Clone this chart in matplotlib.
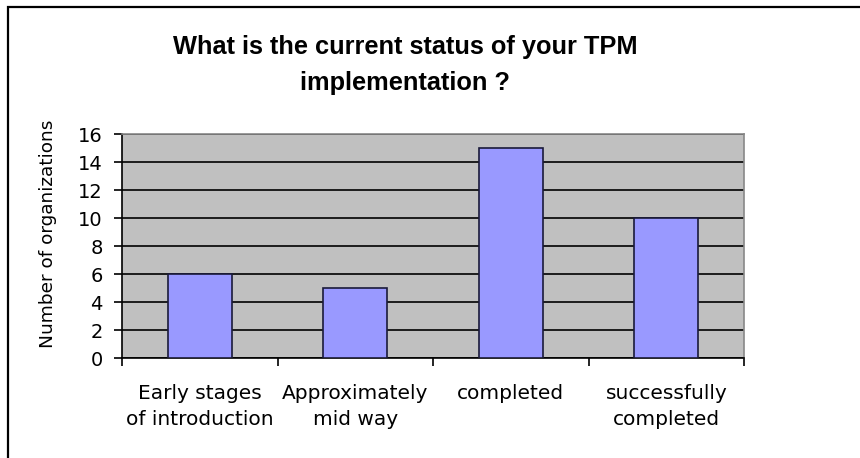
import matplotlib as mpl
mpl.use('Agg')
import matplotlib.pyplot as plt
from matplotlib.patches import Rectangle

categories = ['Early stages\nof introduction', 'Approximately\nmid way',
              'completed', 'successfully\ncompleted']
counts = [6, 5, 15, 10]
y_ticks = [0, 2, 4, 6, 8, 10, 12, 14, 16]

plt.rcParams['font.family'] = ['DejaVu Sans']

fig = plt.figure(figsize=(8.6, 4.58), dpi=100)
axis = fig.add_axes([0.1419, 0.2183, 0.7233, 0.4891])

# outer frame of the chart area
fig.patches.append(Rectangle((8 / 860, -0.05), 1.0, 1 - 7 / 458 + 0.05,
                             transform=fig.transFigure, fill=False,
                             edgecolor='black', linewidth=1.6))

x = range(len(categories))
axis.bar(x, counts, width=0.41, color='#9999ff', edgecolor='#1a1a3a',
         linewidth=1.2, zorder=3)

axis.set_facecolor('#c0c0c0')
axis.set_xlim(-0.5, len(categories) - 0.5)
axis.set_ylim(0, 16)
axis.set_yticks(y_ticks)
axis.yaxis.grid(True, color='black', linewidth=1.2, zorder=1)
axis.set_axisbelow(True)

# ticks sit between the categories
axis.set_xticks([i - 0.5 for i in range(len(categories) + 1)])
axis.set_xticklabels([])
axis.set_xticks(list(x), minor=True)
axis.set_xticklabels(categories, minor=True, fontsize=14.5, linespacing=1.45)
axis.tick_params(axis='x', which='minor', length=0, pad=19)
axis.tick_params(axis='x', which='major', length=6, width=1.2)
axis.tick_params(axis='y', length=6, width=1.2, labelsize=14, pad=8)

for side in ['top', 'right']:
    axis.spines[side].set_color('#888888')
    axis.spines[side].set_linewidth(1.2)
for side in ['left', 'bottom']:
    axis.spines[side].set_color('black')
    axis.spines[side].set_linewidth(1.2)

axis.set_ylabel('Number of organizations', fontsize=13.3, va='center')
axis.yaxis.set_label_coords(-0.119, 0.554)

fig.text(405 / 860, 1 - 65 / 458,
         'What is the current status of your TPM\nimplementation ?',
         ha='center', va='center', fontsize=18.3, fontweight='bold',
         family='Liberation Sans', linespacing=1.6)

fig.savefig('out.png', dpi=100)
